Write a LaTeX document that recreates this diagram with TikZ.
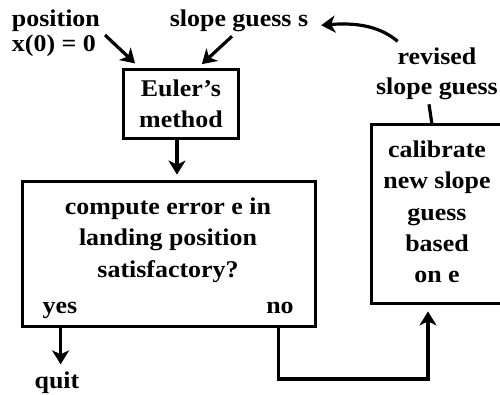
\documentclass[tikz,border=0pt]{standalone}
\usepackage{fontspec}
\setmainfont{Liberation Serif}[FakeStretch=1.08]
\usetikzlibrary{arrows.meta,calc}
\begin{document}
\begin{tikzpicture}[x=1pt,y=-1pt,
  every node/.style={inner sep=0pt,outer sep=0pt,font=\fontsize{24}{31}\selectfont\bfseries},
  box/.style={draw,line width=3.2pt,rectangle},
  conn/.style={line width=3.2pt},
  arr/.style={conn,-{Stealth[length=14pt,width=17pt,inset=4pt]}}]
\useasboundingbox (0,0) rectangle (500,395);
\clip (0,0) rectangle (500,395);
% boxes
\node[box,minimum width=114.8pt,minimum height=68.8pt,align=center] (euler) at (181,104) {Euler’s\\method};
\node[box,minimum width=292.8pt,minimum height=144.8pt] (big) at (169,254) {};
\node[box,minimum width=136.8pt,minimum height=178.8pt] (calib) at (440,214) {};
% texts
\node[align=center,font=\fontsize{24}{31.25}\selectfont\bfseries] (calibtxt) at (437,212) {calibrate\\new slope\\guess\\based\\on e};
\node[align=center,font=\fontsize{24}{31.5}\selectfont\bfseries] (bigtxt) at (168,240) {compute error e in\\landing position\\satisfactory?};
\node[anchor=base] (yes) at (60,313) {yes};
\node[anchor=base] (no) at (280,313) {no};
\node[anchor=base] (quit) at (57,388) {quit};
\node[anchor=base west] (pos1) at (12,27) {position};
\node[anchor=base west] (pos2) at (12,52) {x(0) = 0};
\node[anchor=base] (ss) at (239,27) {slope guess s};
\node[anchor=base] (rev1) at (437,65) {revised};
\node[anchor=base] (rev2) at (437,95) {slope guess};
% connectors
\coordinate (posout) at (105,35);
\draw[arr,shorten >=9pt] (posout) -- ([xshift=18pt]euler.north west);
\draw[arr,shorten >=8pt] ([xshift=-7pt,yshift=-4pt]ss.south) -- ([xshift=15pt]euler.north);
\draw[arr,shorten >=7pt] ([xshift=-4pt]euler.south) -- ([xshift=-4pt]euler.south |- big.north);
\draw[arr,shorten >=7pt] ([xshift=38pt]big.south west) -- ([xshift=38pt]big.south west |- quit.north);
\coordinate (nostart) at ([xshift=-37pt]big.south east);
\coordinate (noend) at ([xshift=-12pt]calib.south);
\coordinate (nolow) at (0,379);
\draw[arr,shorten >=8pt] (nostart) -- (nostart |- nolow) -| (noend);
\draw[conn] ([xshift=-8pt]calib.north) -- ([xshift=-8pt,yshift=-4pt]rev2.south);
\draw[arr] ([shift={(0pt,7pt)}]rev1.north west) .. controls (382,28) and (360,22) .. ([shift={(13pt,-4pt)}]ss.east);
\end{tikzpicture}
\end{document}
